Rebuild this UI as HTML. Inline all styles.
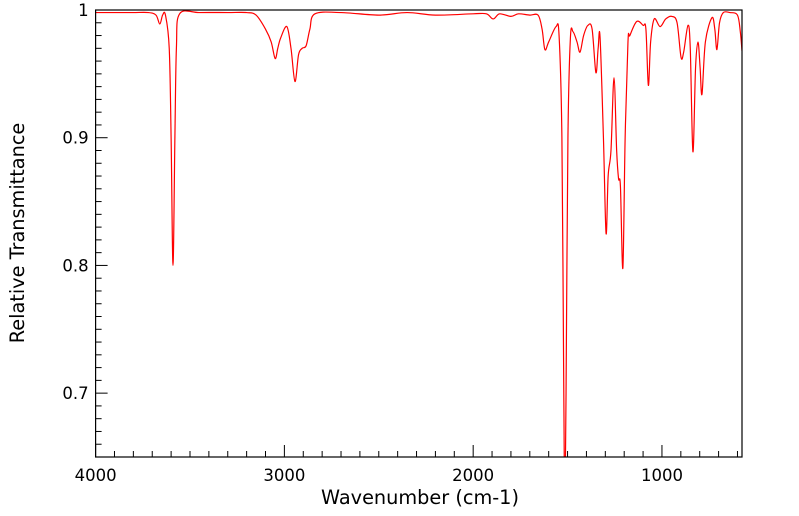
<!DOCTYPE html>
<html><head><meta charset="utf-8"><style>
html,body{margin:0;padding:0;background:#fff;width:799px;height:516px;overflow:hidden}
svg{display:block;font-family:"DejaVu Sans","Liberation Sans",sans-serif}
</style></head><body>
<svg id="chart" width="799" height="516" viewBox="0 0 799 516" xmlns="http://www.w3.org/2000/svg">
<defs><clipPath id="plotclip"><rect x="95.6" y="10" width="646.4" height="447"/></clipPath></defs>
<g id="grid"></g>
<path id="spectrum" fill="none" stroke="#ff0000" stroke-width="1.2" clip-path="url(#plotclip)"/>
<rect x="95.6" y="10" width="646.4" height="447" fill="none" stroke="#000" stroke-width="1.2"/>
<text x="420" y="504" font-size="19.3" text-anchor="middle">Wavenumber (cm-1)</text>
<text transform="translate(24,233) rotate(-90)" font-size="19.3" text-anchor="middle">Relative Transmittance</text>
</svg>
<script>
const xTicks = [4000, 3000, 2000, 1000];
const yTicks = [1, 0.9, 0.8, 0.7];
const yTickLabels = ["1", "0.9", "0.8", "0.7"];
const wavenumbers = [4000,3900,3800,3720,3680,3660,3645,3630,3610,3600,3590,3580,3572,3555,3450,3300,3200,3150,3100,3070,3049,3035,3020,2987,2965,2944,2925,2906,2885,2865,2838,2700,2500,2350,2200,2000,1930,1894,1860,1800,1760,1700,1656,1635,1620,1600,1561,1545,1530,1520,1514,1508,1498,1485,1471,1450,1434,1415,1392,1370,1350,1338,1328,1310,1296,1285,1270,1254,1240,1230,1220,1207,1195,1180,1170,1134,1100,1085,1072,1060,1041,1010,980,947,920,899,885,862,850,836,822,809,798,788,770,735,720,709,695,675,640,600,585,576];
const transmittance = [0.998,0.998,0.998,0.998,0.996,0.989,0.996,0.996,0.97,0.90,0.80,0.90,0.97,0.997,0.998,0.998,0.998,0.996,0.985,0.975,0.962,0.970,0.978,0.987,0.970,0.944,0.965,0.970,0.972,0.985,0.997,0.998,0.996,0.998,0.996,0.997,0.997,0.993,0.997,0.995,0.997,0.996,0.996,0.985,0.969,0.975,0.987,0.98,0.90,0.70,0.60,0.70,0.90,0.978,0.983,0.975,0.967,0.980,0.988,0.985,0.951,0.970,0.979,0.90,0.825,0.870,0.890,0.947,0.890,0.868,0.862,0.798,0.90,0.975,0.98,0.991,0.988,0.985,0.941,0.975,0.993,0.987,0.993,0.995,0.990,0.963,0.967,0.988,0.970,0.889,0.955,0.975,0.955,0.934,0.975,0.994,0.985,0.969,0.990,0.998,0.998,0.996,0.983,0.968];

const X0=95.6, X1=742, Y0=10, Y1=457, WN0=4000, WN1=576, T0=1.0, T1=0.65;
function xScale(w){return X0+(WN0-w)/(WN0-WN1)*(X1-X0);}
function yScale(t){return Y0+(T0-t)/(T0-T1)*(Y1-Y0);}

const NS="http://www.w3.org/2000/svg";
const g=document.getElementById('grid');
function line(x1,y1,x2,y2,name){
  const l=document.createElementNS(NS,'line');
  l.setAttribute('x1',x1);l.setAttribute('y1',y1);l.setAttribute('x2',x2);l.setAttribute('y2',y2);
  l.setAttribute('stroke','#000');l.setAttribute('stroke-width','1');
  
  
  g.appendChild(l);
}
function text(x,y,s,anchor,name){
  const t=document.createElementNS(NS,'text');
  t.setAttribute('x',x);t.setAttribute('y',y);t.setAttribute('font-size','16.5');t.setAttribute('text-anchor',anchor);
  t.textContent=s;
  
  
  g.appendChild(t);
}
for(let w=4000; w>=WN1; w-=100){
  const x=xScale(w); const major=(w%1000===0);
  line(x,Y1,x,Y1-(major?12:6),'x-tick');
}
xTicks.forEach(w=>text(xScale(w),Y1+24,String(w),'middle','x-tick-label'));
for(let i=0;i<=35;i++){
  const t=1-i*0.01; const y=yScale(t); const major=(i%10===0);
  line(X0,y,X0+(major?12:6),y,'y-tick');
}
yTicks.forEach((t,i)=>text(X0-7,yScale(t)+6,yTickLabels[i],'end','y-tick-label'));

const pts=wavenumbers.map((w,i)=>[xScale(w),yScale(transmittance[i])]);
let d='M'+pts[0][0].toFixed(2)+','+pts[0][1].toFixed(2);
for(let i=0;i<pts.length-1;i++){
  const p0=pts[Math.max(0,i-1)],p1=pts[i],p2=pts[i+1],p3=pts[Math.min(pts.length-1,i+2)];
  const k=1/6;
  const c1=[p1[0]+(p2[0]-p0[0])*k,p1[1]+(p2[1]-p0[1])*k];
  const c2=[p2[0]-(p3[0]-p1[0])*k,p2[1]-(p3[1]-p1[1])*k];
  d+=' C'+c1[0].toFixed(2)+','+c1[1].toFixed(2)+' '+c2[0].toFixed(2)+','+c2[1].toFixed(2)+' '+p2[0].toFixed(2)+','+p2[1].toFixed(2);
}
document.getElementById('spectrum').setAttribute('d',d);
</script>
</body></html>
